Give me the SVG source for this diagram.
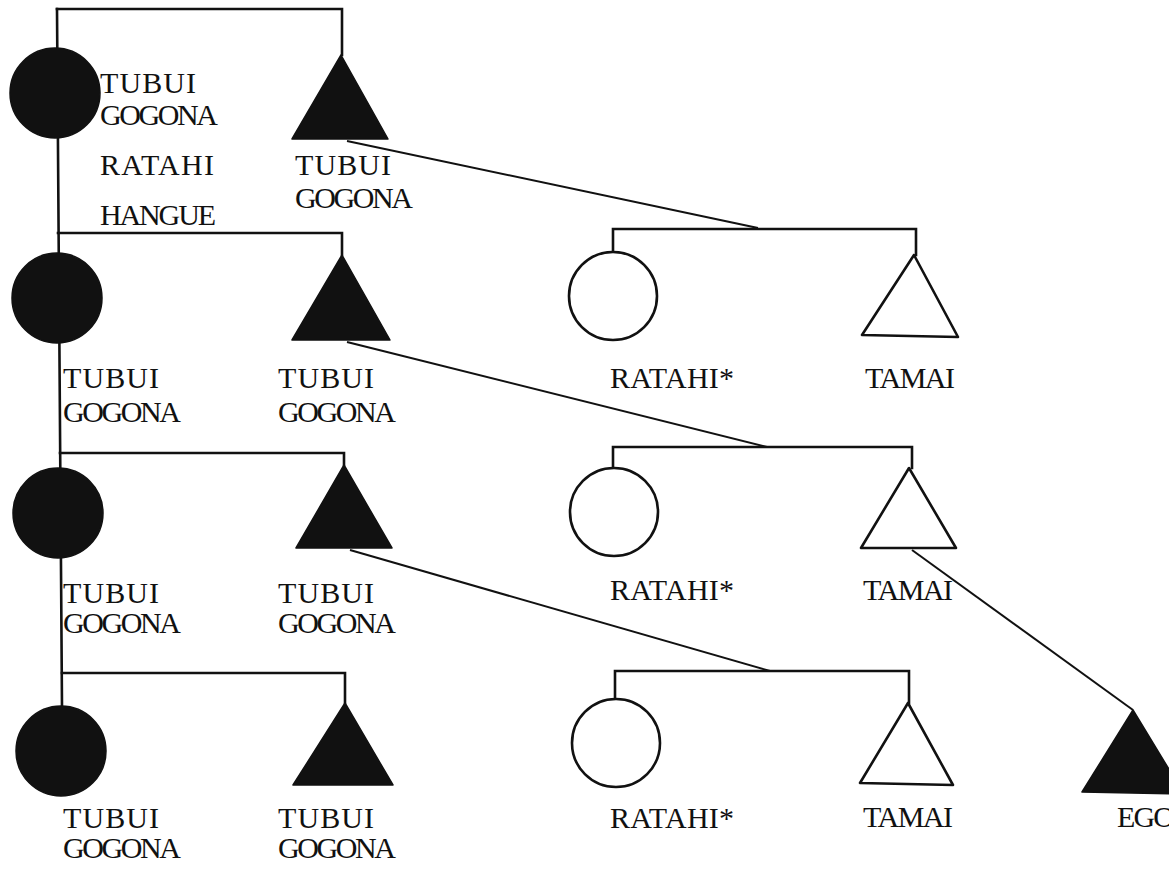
<svg xmlns="http://www.w3.org/2000/svg" width="1169" height="872" viewBox="0 0 1169 872">
  <style>
    .ln { fill: none; stroke: #111; stroke-width: 2.6; stroke-linecap: square; stroke-linejoin: miter; }
    .dg { fill: none; stroke: #111; stroke-width: 2; }
    .solid { fill: #111; stroke: #111; stroke-width: 1.5; stroke-linejoin: round; }
    .open { fill: #fff; stroke: #111; stroke-width: 2.6; stroke-linejoin: round; }
    .lbl { font-family: "Liberation Serif", "DejaVu Serif", serif; font-size: 30px; fill: #111; }
  </style>
  <rect width="1169" height="872" fill="#fff"/>

  <!-- sibling bars, descent lines and marriage links -->
  <g id="connectors">
    <!-- main female line, top to bottom -->
    <polyline class="ln" points="57,9 62,707"/>
    <!-- generation 1 -->
    <polyline class="ln" points="57,9 342,9 342,55"/>
    <!-- generation 2 -->
    <polyline class="ln" points="58,233 342,233 342,255"/>
    <!-- generation 3 -->
    <polyline class="ln" points="60,453 344,453 344,465"/>
    <!-- generation 4 -->
    <polyline class="ln" points="62,673 345,673 345,703"/>

    <!-- children of each TUBUI GOGONA man -->
    <line class="dg" x1="347" y1="141" x2="758" y2="228"/>
    <polyline class="ln" points="613,252 613,229 916,229 916,255"/>
    <line class="dg" x1="347" y1="342" x2="767" y2="447"/>
    <polyline class="ln" points="613,468 613,447 912,447 912,468"/>
    <line class="dg" x1="350" y1="550" x2="770" y2="671"/>
    <polyline class="ln" points="615,699 615,671 909,671 909,703"/>

    <!-- TAMAI to EGO -->
    <line class="dg" x1="912" y1="550" x2="1133" y2="710"/>
  </g>

  <!-- generation 1 -->
  <g id="g1-woman">
    <circle class="solid" cx="55" cy="93" r="45"/>
    <text class="lbl" x="100" y="93" textLength="96" lengthAdjust="spacing">TUBUI</text>
    <text class="lbl" x="100" y="125" textLength="118" lengthAdjust="spacing">GOGONA</text>
    <text class="lbl" x="100" y="175" textLength="114" lengthAdjust="spacing">RATAHI</text>
    <text class="lbl" x="100" y="225" textLength="116" lengthAdjust="spacing">HANGUE</text>
  </g>
  <g id="g1-man">
    <polygon class="solid" points="341,55 292,139 388,139"/>
    <text class="lbl" x="295" y="175" textLength="96" lengthAdjust="spacing">TUBUI</text>
    <text class="lbl" x="295" y="208" textLength="118" lengthAdjust="spacing">GOGONA</text>
  </g>

  <!-- generation 2 -->
  <g id="g2-woman">
    <circle class="solid" cx="57" cy="298" r="45"/>
    <text class="lbl" x="63" y="388" textLength="96" lengthAdjust="spacing">TUBUI</text>
    <text class="lbl" x="63" y="422" textLength="118" lengthAdjust="spacing">GOGONA</text>
  </g>
  <g id="g2-man">
    <polygon class="solid" points="342,255 292,340 390,340"/>
    <text class="lbl" x="278" y="388" textLength="96" lengthAdjust="spacing">TUBUI</text>
    <text class="lbl" x="278" y="422" textLength="118" lengthAdjust="spacing">GOGONA</text>
  </g>
  <g id="g2-ratahi">
    <circle class="open" cx="613" cy="296" r="44"/>
    <text class="lbl" x="610" y="388" textLength="124" lengthAdjust="spacing">RATAHI*</text>
  </g>
  <g id="g2-tamai">
    <polygon class="open" points="914,255 862,335 958,337"/>
    <text class="lbl" x="865" y="388" textLength="90" lengthAdjust="spacing">TAMAI</text>
  </g>

  <!-- generation 3 -->
  <g id="g3-woman">
    <circle class="solid" cx="58" cy="513" r="45"/>
    <text class="lbl" x="63" y="603" textLength="96" lengthAdjust="spacing">TUBUI</text>
    <text class="lbl" x="63" y="633" textLength="118" lengthAdjust="spacing">GOGONA</text>
  </g>
  <g id="g3-man">
    <polygon class="solid" points="344,465 296,548 392,548"/>
    <text class="lbl" x="278" y="603" textLength="96" lengthAdjust="spacing">TUBUI</text>
    <text class="lbl" x="278" y="633" textLength="118" lengthAdjust="spacing">GOGONA</text>
  </g>
  <g id="g3-ratahi">
    <circle class="open" cx="614" cy="512" r="44"/>
    <text class="lbl" x="610" y="600" textLength="124" lengthAdjust="spacing">RATAHI*</text>
  </g>
  <g id="g3-tamai">
    <polygon class="open" points="909,468 861,548 956,548"/>
    <text class="lbl" x="863" y="600" textLength="90" lengthAdjust="spacing">TAMAI</text>
  </g>

  <!-- generation 4 -->
  <g id="g4-woman">
    <circle class="solid" cx="61" cy="751" r="45"/>
    <text class="lbl" x="63" y="828" textLength="96" lengthAdjust="spacing">TUBUI</text>
    <text class="lbl" x="63" y="858" textLength="118" lengthAdjust="spacing">GOGONA</text>
  </g>
  <g id="g4-man">
    <polygon class="solid" points="345,703 293,785 393,785"/>
    <text class="lbl" x="278" y="828" textLength="96" lengthAdjust="spacing">TUBUI</text>
    <text class="lbl" x="278" y="858" textLength="118" lengthAdjust="spacing">GOGONA</text>
  </g>
  <g id="g4-ratahi">
    <circle class="open" cx="616" cy="743" r="44"/>
    <text class="lbl" x="610" y="828" textLength="124" lengthAdjust="spacing">RATAHI*</text>
  </g>
  <g id="g4-tamai">
    <polygon class="open" points="908,703 860,783 953,785"/>
    <text class="lbl" x="863" y="827" textLength="90" lengthAdjust="spacing">TAMAI</text>
  </g>
  <g id="ego">
    <polygon class="solid" points="1133,710 1082,792 1184,794"/>
    <text class="lbl" x="1117" y="827" textLength="58" lengthAdjust="spacing">EGO</text>
  </g>
</svg>
